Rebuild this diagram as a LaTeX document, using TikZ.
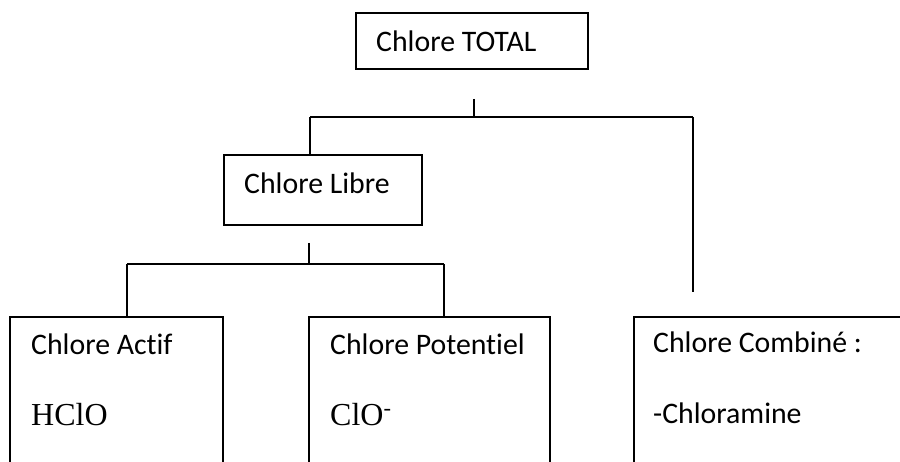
\documentclass[tikz,border=0pt]{standalone}
\usepackage{fontspec}
\setmainfont[Ligatures=NoCommon]{Carlito}
\newfontfamily\timesfont{Liberation Serif}
\begin{document}
\begin{tikzpicture}[x=1pt,y=-1pt,
  boxstyle/.style={draw=black, line width=1.8pt, rectangle, inner sep=0pt, anchor=north west},
  lbl/.style={anchor=base west, inner sep=0pt, font=\fontsize{29.8}{34}\selectfont},
  chem/.style={anchor=base west, inner sep=0pt, font=\timesfont\fontsize{32}{36}\selectfont},
  conn/.style={draw=black, line width=1.5pt}]
\useasboundingbox (0,0) rectangle (900,462);
\fill[white] (0,0) rectangle (900,462);
\begin{scope}
\clip (0,0) rectangle (900,462);
% boxes
\node[boxstyle, minimum width=232pt, minimum height=56pt] (total) at (355,12) {};
\node[boxstyle, minimum width=198pt, minimum height=70pt] (libre) at (223,154) {};
\node[boxstyle, minimum width=213pt, minimum height=200pt] (actif) at (9,316) {};
\node[boxstyle, minimum width=241pt, minimum height=200pt] (potent) at (308,316) {};
\node[boxstyle, minimum width=300pt, minimum height=200pt] (comb) at (633,316) {};
% labels
\node[lbl] (tTotal) at (376,52) {Chlore TOTAL};
\node[lbl] (tLibre) at (244,194) {Chlore Libre};
\node[lbl] (tActif) at (31,355) {Chlore Actif};
\node[chem] (tHClO) at (31,425) {HClO};
\node[lbl] (tPot) at (330,355) {Chlore Potentiel};
\node[chem] (tClO) at (330,425) {ClO\textsuperscript{-}};
\node[lbl] (tComb) at (653,353) {Chlore Combiné :};
\node[lbl] (tChlor) at (653,423) {-Chloramine};
% connector coordinates
\coordinate (a1) at (474,99);
\coordinate (a2) at (474,117);
\coordinate (aL) at (310,117);
\coordinate (aR) at (693,117);
\coordinate (aRend) at (693,292);
\coordinate (b1) at (309,243);
\coordinate (b2) at (309,264);
\coordinate (bL) at (127,264);
\coordinate (bR) at (444,264);
% connectors
\draw[conn] (a1) -- (a2);
\draw[conn] (aL) -- (aR);
\draw[conn] (aL) -- (aL |- libre.north);
\draw[conn] (aR) -- (aRend);
\draw[conn] (b1) -- (b2);
\draw[conn] (bL) -- (bR);
\draw[conn] (bL) -- (bL |- actif.north);
\draw[conn] (bR) -- (bR |- potent.north);
\end{scope}
\end{tikzpicture}
\end{document}
